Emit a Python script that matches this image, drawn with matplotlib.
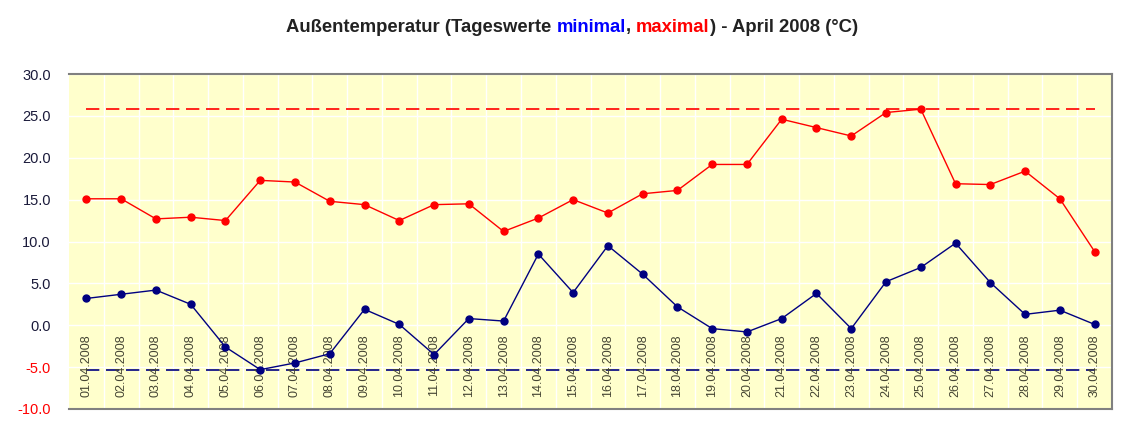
import matplotlib
matplotlib.use("Agg")
import matplotlib.pyplot as plt

days = ["%02d.04.2008" % d for d in range(1, 31)]

t_max = [15.1, 15.1, 12.7, 12.9, 12.5, 17.3, 17.1, 14.8, 14.4, 12.5,
         14.4, 14.5, 11.2, 12.8, 15.0, 13.4, 15.7, 16.1, 19.2, 19.2,
         24.6, 23.6, 22.6, 25.4, 25.8, 16.9, 16.8, 18.4, 15.1, 8.8]
t_min = [3.2, 3.7, 4.2, 2.5, -2.6, -5.3, -4.5, -3.4, 1.9, 0.1,
         -3.5, 0.8, 0.5, 8.5, 3.9, 9.5, 6.1, 2.2, -0.4, -0.8,
         0.8, 3.8, -0.4, 5.2, 6.9, 9.8, 5.1, 1.3, 1.8, 0.1]

y_ticks = [-10, -5, 0, 5, 10, 15, 20, 25, 30]

plt.rcParams['font.family'] = ['Liberation Sans', 'DejaVu Sans']

fig = plt.figure(figsize=(11.44, 4.37), dpi=100)
ax = fig.add_axes([69 / 1144, 1 - 409 / 437, (1112 - 69) / 1144, (409 - 74) / 437])
ax.set_facecolor('#FFFFCC')

x = list(range(len(days)))
ax.set_xlim(-0.5, len(days) - 0.5)
ax.set_ylim(-10, 30)

# white grid: horizontal at every 5, vertical between the days
for yv in y_ticks:
    ax.axhline(yv, color='white', lw=1, zorder=1)
for i in range(1, len(days)):
    ax.axvline(i - 0.5, color='white', lw=1, zorder=1)

# extremes of the month as dashed lines
ax.hlines(max(t_max), x[0], x[-1], colors='#FF0000', linestyles=(0, (8, 4)), lw=1.2, zorder=2)
ax.hlines(min(t_min), x[0], x[-1], colors='#000080', linestyles=(0, (8, 4)), lw=1.2, zorder=2)

ax.plot(x, t_max, color='#FF0000', lw=1, marker='o', ms=5, zorder=4)
ax.plot(x, t_min, color='#000080', lw=1, marker='o', ms=5, zorder=4)

# date labels inside the plot area
for i, d in enumerate(days):
    ax.text(i, -1.1, d, rotation=90, ha='center', va='top', fontsize=9,
            color='#444433', zorder=3)

ax.set_xticks([])
ax.set_yticks(y_ticks)
ax.set_yticklabels(["%.1f" % v for v in y_ticks], fontsize=10.5)
for lab, v in zip(ax.get_yticklabels(), y_ticks):
    lab.set_color('#FF0000' if v < 0 else '#1a1a3a')
ax.tick_params(axis='y', length=0, pad=13)

for s in ['top', 'bottom', 'right']:
    ax.spines[s].set_color('#808080')
    ax.spines[s].set_linewidth(1.5)
ax.spines['left'].set_visible(False)

# multi-coloured title
parts = [("Außentemperatur (Tageswerte ", '#222222'),
         ("minimal", '#0000FF'),
         (", ", '#222222'),
         ("maximal", '#FF0000'),
         (") - April 2008 (°C)", '#222222')]
fig.canvas.draw()
renderer = fig.canvas.get_renderer()
texts = []
xpos = 0
for s, c in parts:
    t = fig.text(xpos, 1 - 27 / 437, s, color=c, fontsize=13.3, fontweight='bold',
                 va='center', ha='left')
    w = t.get_window_extent(renderer).width
    texts.append((t, xpos))
    xpos += w / 1144
start = 0.5 - xpos / 2
for t, xp in texts:
    t.set_x(start + xp)

fig.savefig("out.png", dpi=100)
